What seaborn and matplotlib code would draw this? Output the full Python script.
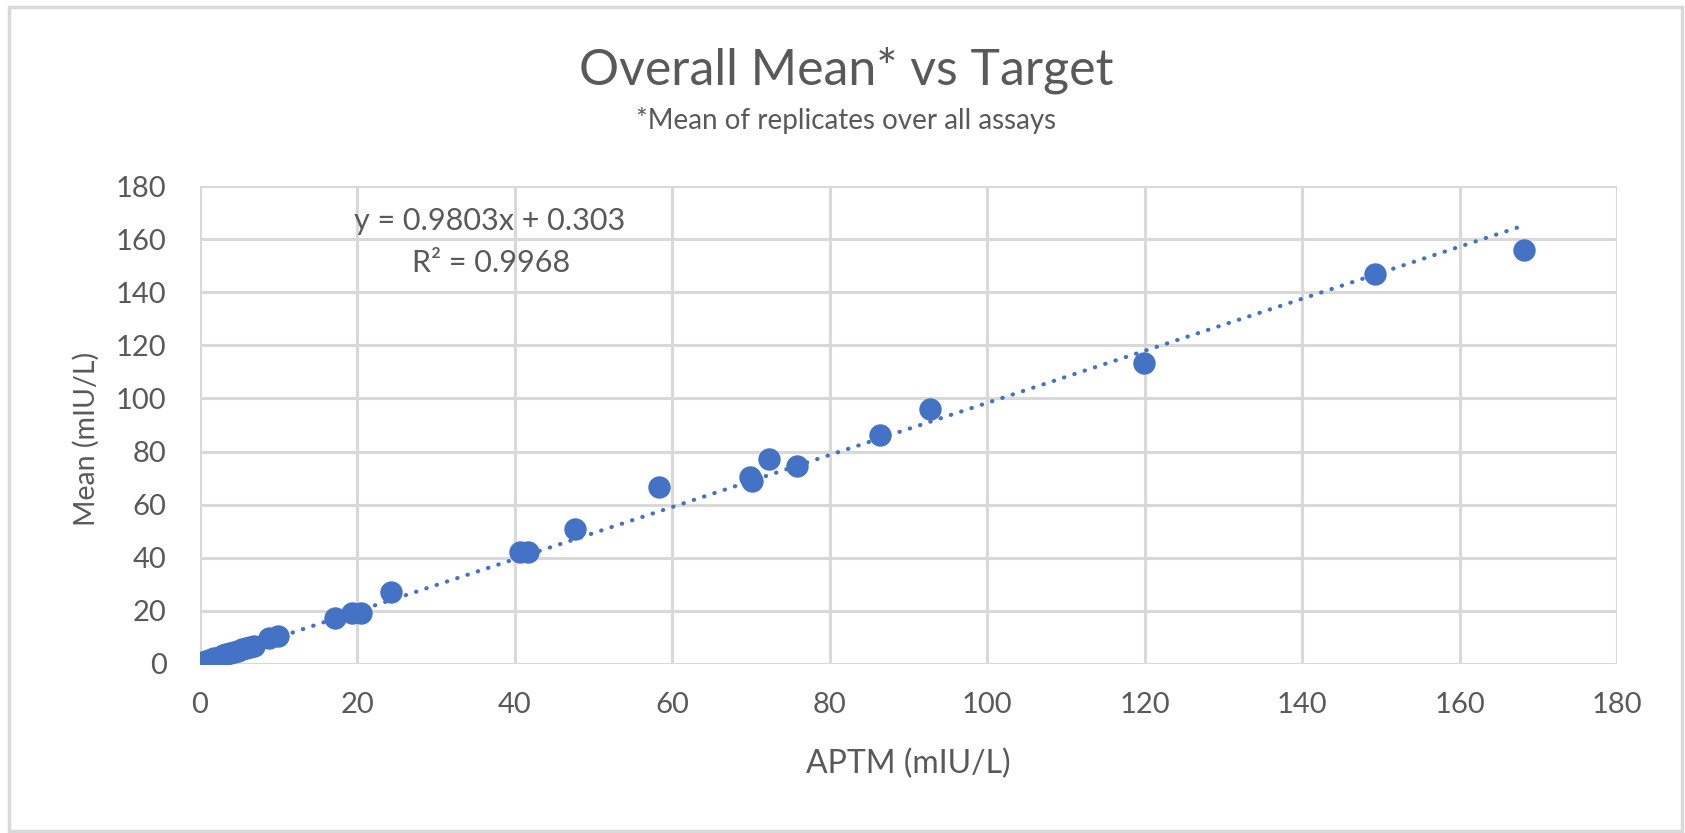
import matplotlib
matplotlib.use("Agg")
import matplotlib.pyplot as plt
import matplotlib.patches as mpatches
import seaborn as sns
import numpy as np
import pandas as pd

# Assay target (APTM) and overall mean of replicates, mIU/L
aptm = [0.05, 0.1, 0.2, 0.3, 0.4, 0.6, 0.8, 1.0, 1.2, 1.5, 1.8, 2.1, 2.5, 2.9,
        3.3, 3.8, 4.3, 4.8, 5.3, 5.8, 6.3, 6.8, 8.7, 9.9,
        17.1, 19.3, 20.4, 24.2, 40.7, 41.6, 47.6, 58.3, 69.9, 70.1, 72.3,
        75.8, 86.4, 92.7, 119.9, 149.3, 168.2]
mean = [0.2, 0.3, 0.4, 0.5, 0.6, 0.8, 1.0, 1.3, 1.5, 1.8, 2.1, 2.4, 2.8, 3.2,
        3.6, 4.0, 4.5, 5.0, 5.5, 6.0, 6.4, 6.9, 9.6, 10.6,
        17.2, 19.2, 19.2, 27.1, 42.3, 42.3, 50.8, 66.8, 70.4, 68.8, 77.3,
        74.4, 86.2, 96.1, 113.3, 147.0, 156.0]

# Linear trendline as reported on the chart
slope = 0.9803
intercept = 0.303
r_squared = 0.9968

axis_ticks = [0, 20, 40, 60, 80, 100, 120, 140, 160, 180]

df = pd.DataFrame({"APTM": aptm, "Mean": mean})

BLUE = "#4472C4"
TEXT = "#595959"
GRID = "#D9D9D9"

sns.set_theme(style="white")
plt.rcParams["font.family"] = ["Lato", "DejaVu Sans"]

fig = plt.figure(figsize=(16.85, 8.33), dpi=100)
ax = fig.add_axes([0.1187, 0.2029, 0.8410, 0.5738])

# chart-area frame
fig.patches.append(mpatches.Rectangle((0.0055, 0.002), 0.9925, 0.989,
                                      transform=fig.transFigure, fill=False,
                                      edgecolor=GRID, linewidth=2.5, zorder=0))

# trendline
tx = np.array([0.0, max(aptm)])
ax.plot(tx, slope * tx + intercept, color=BLUE, linewidth=3,
        linestyle=(0, (0.1, 2.5)), dash_capstyle="round", zorder=2)

sns.scatterplot(data=df, x="APTM", y="Mean", ax=ax, color=BLUE, s=260,
                edgecolor=BLUE, linewidth=0, zorder=3, legend=False)

ax.set_xlim(0, 180)
ax.set_ylim(0, 180)
ax.set_xticks(axis_ticks)
ax.set_yticks(axis_ticks)
ax.grid(True, color=GRID, linewidth=2.2)
ax.set_axisbelow(True)
for sp in ax.spines.values():
    sp.set_visible(False)
ax.tick_params(axis="both", length=0, labelsize=21, labelcolor=TEXT)
ax.tick_params(axis="y", pad=24)
ax.tick_params(axis="x", pad=20)

ax.set_xlabel("APTM (mIU/L)", fontsize=23, color=TEXT, labelpad=22)
ax.set_ylabel("Mean (mIU/L)", fontsize=20.5, color=TEXT)
ax.yaxis.set_label_coords(-0.071, 0.47)

ax.text(36.8, 167, f"y = {slope}x + {intercept}", fontsize=22, color=TEXT,
        ha="center", va="center")
ax.text(37.0, 151, f"R\u00b2 = {r_squared}", fontsize=22, color=TEXT,
        ha="center", va="center")

fig.text(0.502, 1 - 70 / 833, "Overall Mean* vs Target", fontsize=36,
         color=TEXT, ha="center", va="center")
fig.text(0.502, 1 - 121 / 833, "*Mean of replicates over all assays",
         fontsize=20, color=TEXT, ha="center", va="center")

fig.savefig("out.png", dpi=100, facecolor="white")
